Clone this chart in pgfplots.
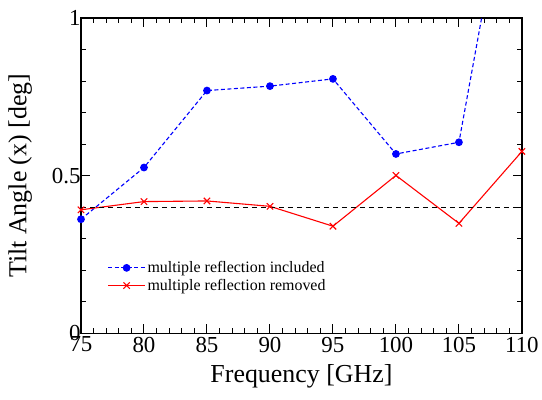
\documentclass[border=0pt]{standalone}
\usepackage{fontspec}
\setmainfont{Liberation Serif}
\usepackage{pgfplots}
\pgfplotsset{compat=1.18}
\begin{document}
\begin{tikzpicture}
\begin{axis}[
 scale only axis, width=441bp, height=315.5bp,
 xmin=75, xmax=110, ymin=0, ymax=1,
 xtick={75,80,...,110}, ytick={0,0.5,1},
 xticklabels={\textrm{75},\textrm{80},\textrm{85},\textrm{90},\textrm{95},\textrm{100},\textrm{105},\textrm{110}},
 yticklabels={\textrm{0},\textrm{0.5},\textrm{1}},
 minor x tick num=4, minor y tick num=4,
 tick align=inside, major tick length=9bp, minor tick length=5bp,
 axis line style={line width=1.2bp},
 every tick/.style={black, line width=1bp},
 ticklabel style={font=\rmfamily\fontsize{23}{26}\selectfont},
 yticklabel style={xshift=3bp},
 xlabel={Frequency [GHz]}, ylabel={Tilt Angle (x) [deg]},
 label style={font=\fontsize{26}{30}\selectfont},
 xlabel style={yshift=-5bp},
 ylabel style={yshift=13bp},
 legend style={draw=none, fill=none, at={(rel axis cs:0.06,0.235)}, anchor=north west,
   font=\fontsize{16}{18}\selectfont, row sep=1bp, inner sep=0pt},
 legend cell align=left,
 legend image code/.code={\draw[mark repeat=2,mark phase=2] plot coordinates {(0cm,0cm)(0.65cm,0cm)(1.3cm,0cm)};},
]
\addplot[blue, line width=1.1bp, dash pattern=on 4bp off 2.5bp, mark=*, mark size=3.3bp, mark options={solid, fill=blue}]
 coordinates {(75,0.362)(80,0.526)(85,0.770)(90,0.784)(95,0.807)(100,0.569)(105,0.606)(110,1.70)};
\addlegendentry{multiple reflection included}
\addplot[red, line width=1.1bp, mark=x, mark size=4.5bp, mark options={solid, line width=1.1bp}]
 coordinates {(75,0.392)(80,0.418)(85,0.420)(90,0.403)(95,0.340)(100,0.501)(105,0.349)(110,0.577)};
\addlegendentry{multiple reflection removed}
\addplot[black, line width=1bp, dash pattern=on 5bp off 4bp, forget plot] coordinates {(75,0.40)(110,0.40)};
\end{axis}
\path ([xshift=-81bp,yshift=-66.5bp]current axis.south west) rectangle ([xshift=20bp,yshift=18bp]current axis.north east);
\end{tikzpicture}
\end{document}
